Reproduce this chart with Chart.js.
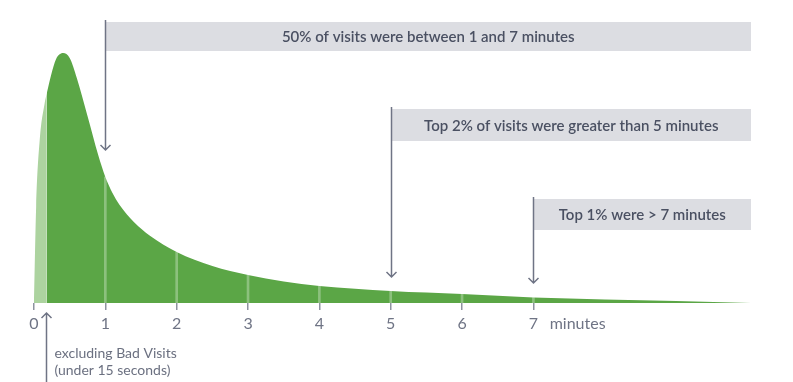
<!DOCTYPE html>
<html>
<head>
<meta charset="utf-8">
<script src="https://cdn.jsdelivr.net/npm/chart.js@4"></script>
<style>
  body { margin: 0; background: #fff; }
  #wrap { width: 793px; height: 382px; position: relative; }
</style>
</head>
<body>
<div id="wrap"><canvas id="visitsChart"></canvas></div>
<script>
// visit length distribution (relative density)
const minutes = [0, 0.03, 0.08, 0.15, 0.18, 0.24, 0.31, 0.41, 0.5, 0.6, 0.75, 0.9, 1, 1.1, 1.2, 1.4, 1.63, 2, 2.5, 3, 3.5, 4, 5, 6, 7, 8, 9, 10.05];
const visitDensity = [0, 96, 163, 200, 210, 228, 244, 250, 245, 225, 187, 148, 126, 110, 98, 81, 67, 51, 37, 28, 21.5, 17, 12, 9, 5.5, 3.5, 2, 0];
const badVisitCutoff = 0.18;
const tickValues = [0, 1, 2, 3, 4, 5, 6, 7, 7.62];
const tickLabels = ['0', '1', '2', '3', '4', '5', '6', '7', 'minutes'];
const gridMinutes = [1, 2, 3, 4, 5, 6, 7];
const callouts = [
    { at: 1, text: '50% of visits were between 1 and 7 minutes' },
    { at: 5, text: 'Top 2% of visits were greater than 5 minutes' },
    { at: 7, text: 'Top 1% were > 7 minutes' }
];
const noteLines = ['excluding Bad Visits', '(under 15 seconds)'];

const points = minutes.map((m, i) => ({ x: m, y: visitDensity[i] }));
const badPoints = points.filter(p => p.x <= badVisitCutoff);
const goodPoints = points.filter(p => p.x >= badVisitCutoff);
const gridPoints = gridMinutes.map(m => ({ x: m, y: visitDensity[minutes.indexOf(m)] }));

const ink = '#4a5062';
const lineGray = '#6f7485';

// boxes, arrows and the note under the axis
const calloutPlugin = {
    id: 'callouts',
    afterDraw(chart) {
        const ctx = chart.ctx;
        const xs = chart.scales.x;
        const right = chart.chartArea.right;
        const boxes = [
            { top: 22, h: 29, tip: 150 },
            { top: 109, h: 32, tip: 277 },
            { top: 199, h: 31, tip: 283 }
        ];
        ctx.save();
        callouts.forEach((c, i) => {
            const b = boxes[i];
            const x = Math.round(xs.getPixelForValue(c.at)) + 0.5;
            ctx.fillStyle = '#dcdde2';
            ctx.fillRect(x, b.top, right - x, b.h);
            ctx.fillStyle = ink;
            ctx.font = '600 15px Lato';
            ctx.textAlign = 'center';
            ctx.textBaseline = 'middle';
            ctx.fillText(c.text, (x + right) / 2, b.top + b.h / 2 + 1);
            ctx.strokeStyle = lineGray;
            ctx.lineWidth = 1.5;
            ctx.beginPath();
            ctx.moveTo(x, b.top - 2);
            ctx.lineTo(x, b.tip);
            ctx.moveTo(x - 5, b.tip - 5);
            ctx.lineTo(x, b.tip);
            ctx.lineTo(x + 5, b.tip - 5);
            ctx.stroke();
        });
        // bad visits note
        const nx = Math.round(xs.getPixelForValue(badVisitCutoff)) - 0.5;
        ctx.beginPath();
        ctx.moveTo(nx, 382);
        ctx.lineTo(nx, 313);
        ctx.moveTo(nx - 5, 318);
        ctx.lineTo(nx, 313);
        ctx.lineTo(nx + 5, 318);
        ctx.stroke();
        ctx.fillStyle = '#6b7080';
        ctx.font = '14px Lato';
        ctx.textAlign = 'left';
        ctx.textBaseline = 'middle';
        ctx.fillText(noteLines[0], nx + 8, 353);
        ctx.fillText(noteLines[1], nx + 8, 370);
        ctx.restore();
    }
};

const chart = new Chart(document.getElementById('visitsChart'), {
    type: 'line',
    data: {
        datasets: [
            {
                type: 'bar',
                data: gridPoints,
                backgroundColor: 'rgba(255, 255, 255, 0.3)',
                barThickness: 2,
                borderWidth: 0,
                order: 0
            },
            {
                data: badPoints,
                backgroundColor: '#acd39f',
                fill: 'origin',
                borderWidth: 0,
                pointRadius: 0,
                cubicInterpolationMode: 'monotone',
                order: 1
            },
            {
                data: goodPoints,
                backgroundColor: '#5ba646',
                fill: 'origin',
                borderWidth: 0,
                pointRadius: 0,
                cubicInterpolationMode: 'monotone',
                order: 2
            }
        ]
    },
    options: {
        responsive: true,
        maintainAspectRatio: false,
        animation: false,
        layout: { padding: { left: 34, right: 42, top: 3, bottom: 0 } },
        plugins: { legend: { display: false }, tooltip: { enabled: false } },
        scales: {
            x: {
                type: 'linear',
                min: 0,
                max: 10.05,
                offset: false,
                afterBuildTicks: scale => { scale.ticks = tickValues.map(v => ({ value: v })); },
                afterFit: scale => { scale.height = 79; },
                ticks: {
                    autoSkip: false,
                    maxRotation: 0,
                    padding: 4,
                    color: '#6f7485',
                    font: { family: 'Lato', size: 16 },
                    callback: (v, i) => tickLabels[i]
                },
                grid: {
                    offset: false,
                    drawOnChartArea: false,
                    tickLength: 7,
                    lineWidth: 1.5,
                    color: c => (c.index < 8 ? '#8e93a0' : 'rgba(0,0,0,0)')
                },
                border: { display: false }
            },
            y: { display: false, min: 0, max: 300 }
        }
    },
    plugins: [calloutPlugin]
});
</script>
</body>
</html>
